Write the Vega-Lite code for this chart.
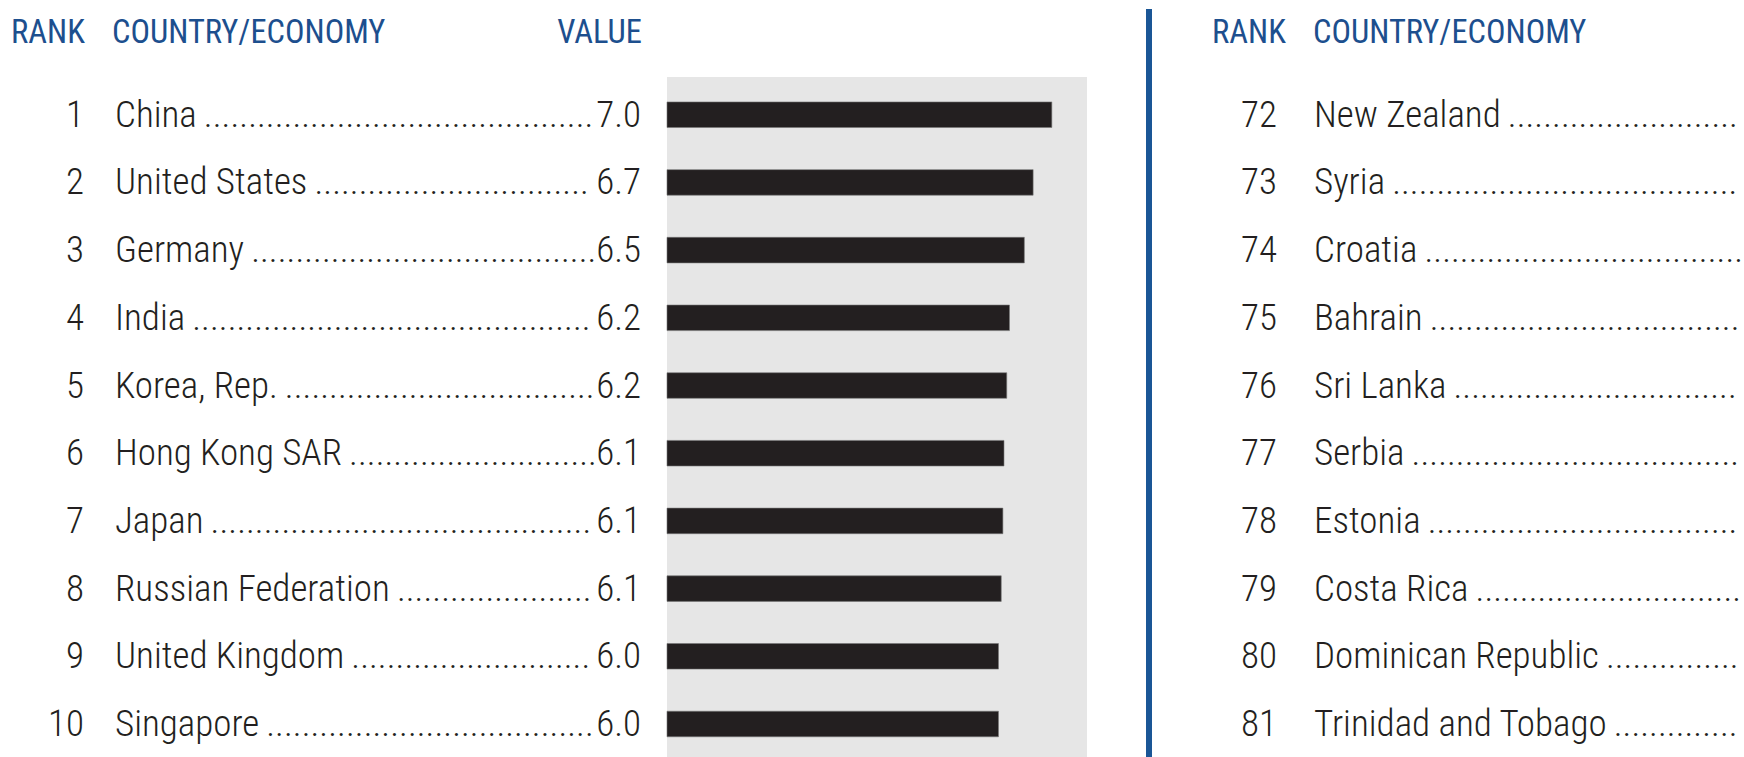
{
  "$schema": "https://vega.github.io/schema/vega-lite/v6.json",
  "width": 1744,
  "height": 757,
  "padding": 0,
  "autosize": "none",
  "background": "white",
  "config": {
    "view": {"stroke": null},
    "text": {"font": "'Roboto Condensed', 'DejaVu Sans Condensed', sans-serif"}
  },
  "datasets": {
    "left": [
      {"rank": 1, "country": "China", "value": 7.0},
      {"rank": 2, "country": "United States", "value": 6.66},
      {"rank": 3, "country": "Germany", "value": 6.5},
      {"rank": 4, "country": "India", "value": 6.23},
      {"rank": 5, "country": "Korea, Rep.", "value": 6.18},
      {"rank": 6, "country": "Hong Kong SAR", "value": 6.13},
      {"rank": 7, "country": "Japan", "value": 6.11},
      {"rank": 8, "country": "Russian Federation", "value": 6.08},
      {"rank": 9, "country": "United Kingdom", "value": 6.03},
      {"rank": 10, "country": "Singapore", "value": 6.03}
    ],
    "right": [
      {"rank": 72, "country": "New Zealand"},
      {"rank": 73, "country": "Syria"},
      {"rank": 74, "country": "Croatia"},
      {"rank": 75, "country": "Bahrain"},
      {"rank": 76, "country": "Sri Lanka"},
      {"rank": 77, "country": "Serbia"},
      {"rank": 78, "country": "Estonia"},
      {"rank": 79, "country": "Costa Rica"},
      {"rank": 80, "country": "Dominican Republic"},
      {"rank": 81, "country": "Trinidad and Tobago"}
    ]
  },
  "resolve": {"scale": {"y": "independent"}},
  "layer": [
    {
      "data": {"values": [{}]},
      "mark": {"type": "rect", "color": "#e6e6e6"},
      "encoding": {
        "x": {"datum": 0, "type": "quantitative", "scale": {"domain": [0, 7.64], "range": [667, 1087], "nice": false, "zero": true}, "axis": null},
        "x2": {"datum": 7.64},
        "y": {"value": 77},
        "y2": {"value": 757}
      }
    },
    {
      "data": {"name": "left"},
      "encoding": {
        "y": {"field": "rank", "type": "ordinal", "axis": null,
              "scale": {"type": "band", "paddingInner": 0.622, "paddingOuter": 0.902, "align": 0.8346}}
      },
      "layer": [
        {
          "mark": {"type": "bar", "color": "#231f20", "stroke": "#777777", "strokeWidth": 0.6},
          "encoding": {
            "x": {"field": "value", "type": "quantitative", "scale": {"domain": [0, 7.64], "range": [667, 1087], "nice": false, "zero": true}, "axis": null}
          }
        },
        {
          "mark": {"type": "text", "align": "right", "baseline": "alphabetic", "dy": 12, "x": 84, "fontSize": 37, "fontWeight": 300, "color": "#231f20"},
          "encoding": {"text": {"field": "rank", "type": "nominal"}}
        },
        {
          "mark": {"type": "text", "align": "left", "baseline": "alphabetic", "dy": 12, "x": 115, "limit": 482, "ellipsis": ".", "fontSize": 37, "fontWeight": 300, "color": "#231f20"},
          "encoding": {"text": {"value": {"expr": "datum.country + '\u2009................................................................................'"}}}
        },
        {
          "mark": {"type": "text", "align": "right", "baseline": "alphabetic", "dy": 12, "x": 641, "fontSize": 37, "fontWeight": 300, "color": "#231f20"},
          "encoding": {"text": {"field": "value", "type": "quantitative", "format": ".1f"}}
        }
      ]
    },
    {
      "data": {"name": "right"},
      "encoding": {
        "y": {"field": "rank", "type": "ordinal", "axis": null,
              "scale": {"type": "band", "paddingInner": 0.622, "paddingOuter": 0.902, "align": 0.8346}}
      },
      "layer": [
        {
          "mark": {"type": "text", "align": "right", "baseline": "alphabetic", "dy": 12, "x": 1277, "fontSize": 37, "fontWeight": 300, "color": "#231f20"},
          "encoding": {"text": {"field": "rank", "type": "nominal"}}
        },
        {
          "mark": {"type": "text", "align": "left", "baseline": "alphabetic", "dy": 12, "x": 1314, "limit": 430, "ellipsis": ".", "fontSize": 37, "fontWeight": 300, "color": "#231f20"},
          "encoding": {"text": {"value": {"expr": "datum.country + '\u2009................................................................................'"}}}
        }
      ]
    },
    {
      "data": {"values": [{}]},
      "mark": {"type": "rule", "strokeWidth": 6, "color": "#1a5696"},
      "encoding": {
        "x": {"value": 1149},
        "y": {"value": 9},
        "y2": {"value": 757}
      }
    },
    {
      "data": {"values": [{}]},
      "mark": {"type": "text", "text": "RANK", "align": "left", "baseline": "alphabetic", "x": 11, "y": 43, "fontSize": 32.5, "color": "#1d4f8e"},
      "encoding": {}
    },
    {
      "data": {"values": [{}]},
      "mark": {"type": "text", "text": "COUNTRY/ECONOMY", "align": "left", "baseline": "alphabetic", "x": 112, "y": 43, "fontSize": 32.5, "color": "#1d4f8e"},
      "encoding": {}
    },
    {
      "data": {"values": [{}]},
      "mark": {"type": "text", "text": "VALUE", "align": "right", "baseline": "alphabetic", "x": 642, "y": 43, "fontSize": 32.5, "color": "#1d4f8e"},
      "encoding": {}
    },
    {
      "data": {"values": [{}]},
      "mark": {"type": "text", "text": "RANK", "align": "left", "baseline": "alphabetic", "x": 1212, "y": 43, "fontSize": 32.5, "color": "#1d4f8e"},
      "encoding": {}
    },
    {
      "data": {"values": [{}]},
      "mark": {"type": "text", "text": "COUNTRY/ECONOMY", "align": "left", "baseline": "alphabetic", "x": 1313, "y": 43, "fontSize": 32.5, "color": "#1d4f8e"},
      "encoding": {}
    }
  ]
}
